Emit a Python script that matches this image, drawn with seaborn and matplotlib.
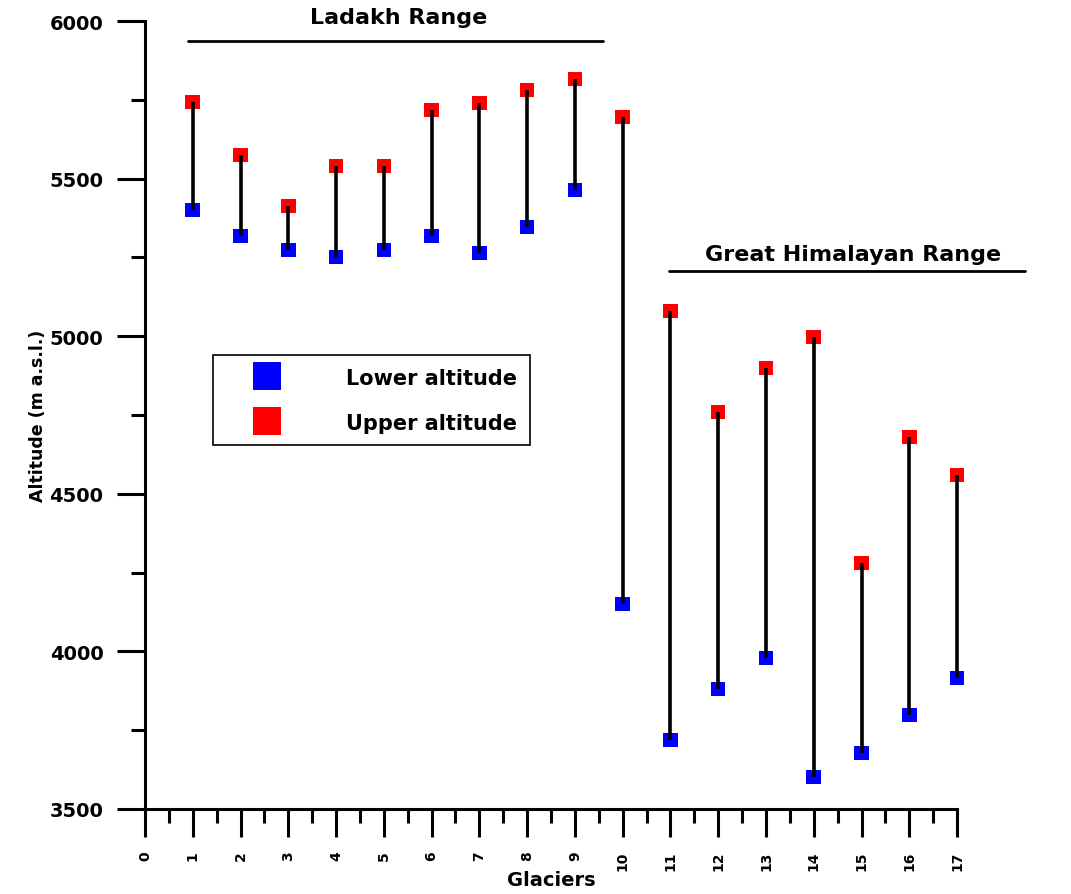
import numpy as np
import pandas as pd
import matplotlib
matplotlib.use("Agg")
import matplotlib.pyplot as plt
import seaborn as sns
from matplotlib.lines import Line2D
from matplotlib.ticker import MultipleLocator

# Glacier altitude ranges (m a.s.l.)
glaciers = list(range(1, 18))
lower_alt = [5400, 5318, 5274, 5251, 5274, 5318, 5264, 5346, 5464,
             4150, 3719, 3881, 3979, 3602, 3678, 3798, 3916]
upper_alt = [5743, 5575, 5413, 5540, 5540, 5718, 5740, 5781, 5816,
             5695, 5080, 4760, 4899, 4997, 4280, 4680, 4560]
x_ticks = list(range(0, 18))
y_ticks = [3500, 4000, 4500, 5000, 5500, 6000]

df = pd.DataFrame({"glacier": glaciers, "lower": lower_alt, "upper": upper_alt})
long_df = df.melt(id_vars="glacier", var_name="level", value_name="altitude")

sns.set_style("ticks")
plt.rcParams['font.family'] = ['DejaVu Sans']
plt.rcParams['font.weight'] = 'bold'
for key in ['text.color', 'axes.labelcolor', 'xtick.color', 'ytick.color']:
    plt.rcParams[key] = 'black'

fig = plt.figure(figsize=(10.71, 8.95), dpi=100)
ax = fig.add_axes([0.1354, 0.0950, 0.7582, 0.8804])

palette = {"lower": "#0000ff", "upper": "#ff0000"}
sns.scatterplot(data=long_df, x="glacier", y="altitude", hue="level",
                palette=palette, marker="s", s=110, linewidth=0,
                legend=False, ax=ax, zorder=2, clip_on=False)
ax.vlines(df["glacier"], df["lower"], df["upper"], color="black",
          linewidth=2.6, zorder=3, clip_on=False)

ax.set_xlim(0, 17)
ax.set_ylim(3500, 6000)
ax.set_xticks(x_ticks)
ax.set_xticklabels([str(t) for t in x_ticks], rotation=90, fontsize=10,
                   fontweight='bold')
ax.xaxis.set_minor_locator(MultipleLocator(0.5))
ax.set_yticks(y_ticks)
ax.set_yticklabels([str(t) for t in y_ticks], fontsize=14, fontweight='bold')
ax.yaxis.set_minor_locator(MultipleLocator(250))

ax.tick_params(axis='both', which='major', direction='out', length=20,
               width=2.2, color='black')
ax.tick_params(axis='both', which='minor', direction='out', length=10,
               width=2.2, color='black')
ax.tick_params(axis='x', which='major', pad=10)
ax.tick_params(axis='y', which='major', pad=10)

sns.despine(ax=ax)
for side in ['left', 'bottom']:
    ax.spines[side].set_linewidth(2.2)
    ax.spines[side].set_color('black')

ax.set_xlabel("Glaciers", fontsize=14, fontweight='bold', labelpad=0)
ax.set_ylabel("Altitude (m a.s.l.)", fontsize=12.5, fontweight='bold', labelpad=2)

# Range annotations
ax.plot([0.9, 9.59], [5937, 5937], color='black', linewidth=2, clip_on=False)
ax.text(5.3, 6012, "Ladakh Range", ha='center', va='center', fontsize=16,
        fontweight='bold', clip_on=False)
ax.plot([10.97, 18.43], [5207, 5207], color='black', linewidth=2, clip_on=False)
ax.text(14.82, 5262, "Great Himalayan Range", ha='center', va='center',
        fontsize=16, fontweight='bold', clip_on=False)

handles = [Line2D([], [], marker='s', linestyle='none', markersize=20,
                  markerfacecolor='#0000ff', markeredgewidth=0),
           Line2D([], [], marker='s', linestyle='none', markersize=20,
                  markerfacecolor='#ff0000', markeredgewidth=0)]
leg = ax.legend(handles, ["Lower altitude", "Upper altitude"],
                loc='upper left', bbox_to_anchor=(0.0837, 0.576),
                borderaxespad=0, frameon=True, fancybox=False,
                edgecolor='black', framealpha=1, fontsize=15,
                handletextpad=1.8, borderpad=0.6, labelspacing=1.2,
                handlelength=4.0)
leg.get_frame().set_linewidth(1.2)
for t in leg.get_texts():
    t.set_fontweight('bold')

fig.savefig("out.png", dpi=100)
